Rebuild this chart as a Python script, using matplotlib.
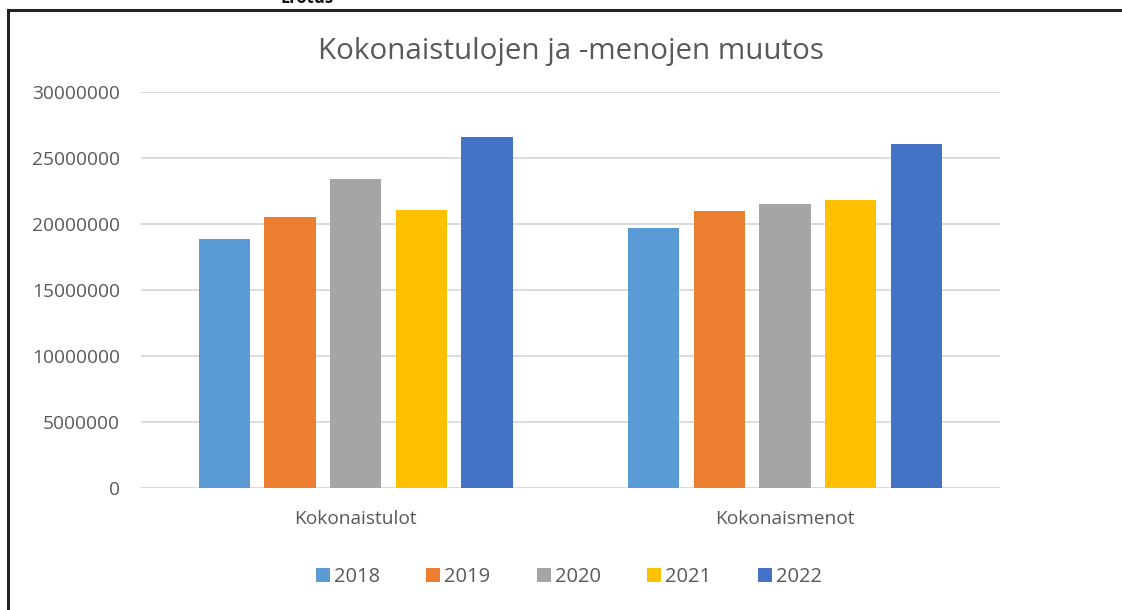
import numpy as np
import matplotlib.pyplot as plt
from matplotlib.patches import Patch
from matplotlib.lines import Line2D

plt.rcParams['font.family'] = ['Open Sans', 'DejaVu Sans']

# Data
categories = ["Kokonaistulot", "Kokonaismenot"]
years = ["2018", "2019", "2020", "2021", "2022"]
values = {
    "2018": [18900000, 19700000],
    "2019": [20500000, 21000000],
    "2020": [23400000, 21500000],
    "2021": [21100000, 21800000],
    "2022": [26600000, 26100000],
}
colors = ["#5b9bd5", "#ed7d31", "#a5a5a5", "#ffc000", "#4472c4"]
yticks = [0, 5000000, 10000000, 15000000, 20000000, 25000000, 30000000]

text_col = "#595959"

fig = plt.figure(figsize=(11.22, 6.10), dpi=100)
ax = fig.add_axes([0.1257, 0.2, 0.7653, 0.649])

x = np.arange(len(categories))
step = 0.153
width = 0.12
for i, year in enumerate(years):
    ax.bar(x + (i - 2) * step, values[year], width=width, color=colors[i],
           label=year, zorder=3)

ax.set_xlim(-0.5, 1.5)
ax.set_ylim(0, 30000000)
ax.set_yticks(yticks)
ax.set_yticklabels([str(v) for v in yticks])
ax.set_xticks(x)
ax.set_xticklabels(categories)
ax.grid(axis='y', color='#d9d9d9', linewidth=1.3, zorder=0)
for s in ax.spines.values():
    s.set_visible(False)
ax.tick_params(axis='y', length=0, pad=15, labelsize=13.8, labelcolor=text_col)
ax.tick_params(axis='x', length=0, pad=15.5, labelsize=13.8, labelcolor=text_col)

fig.text(0.509, 0.915, "Kokonaistulojen ja -menojen muutos", ha='center',
         va='center', fontsize=21.3, color=text_col)

# legend
handles = [Patch(facecolor=c, edgecolor='none') for c in colors]
fig.legend(handles, years, loc='center', bbox_to_anchor=(0.507, 0.054),
           ncol=5, frameon=False, fontsize=14.5, labelcolor=text_col,
           handlelength=0.7, handleheight=0.65, handletextpad=0.2,
           columnspacing=2.3)

# outer frame (left and top edges visible in the screenshot)
fig.add_artist(Line2D([0.0075, 0.0075], [0, 0.984], transform=fig.transFigure,
                      color='#222222', linewidth=2.2))
fig.add_artist(Line2D([0.0075, 1.0], [0.984, 0.984], transform=fig.transFigure,
                      color='#222222', linewidth=2.2))
# caption above the frame, cut off by the top edge as in the screenshot
fig.text(0.25, 1.004, "Erotus", ha='left', va='center', fontsize=12,
         color='#111111', fontweight='bold')

fig.savefig("out.png", dpi=100, facecolor='white')
